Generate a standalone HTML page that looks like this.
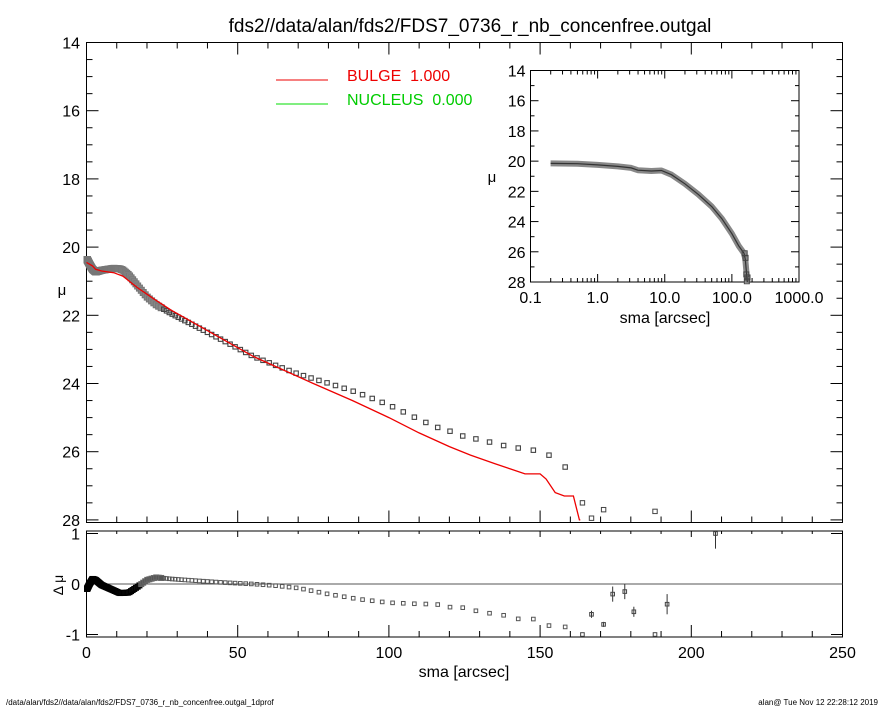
<!DOCTYPE html>
<html><head><meta charset="utf-8"><style>
html,body{margin:0;padding:0;background:#fff;}
svg{display:block;font-family:"Liberation Sans",sans-serif;}
</style></head><body>
<svg id="s" width="885" height="708" viewBox="0 0 885 708" xmlns="http://www.w3.org/2000/svg">
<rect width="885" height="708" fill="#fff"/>
<text x="470" y="32" font-size="19" text-anchor="middle">fds2//data/alan/fds2/FDS7_0736_r_nb_concenfree.outgal</text>
<g id="main"></g>
<text x="6" y="705" font-size="8">/data/alan/fds2//data/alan/fds2/FDS7_0736_r_nb_concenfree.outgal_1dprof</text>
<text x="878" y="705" font-size="8" text-anchor="end">alan@  Tue Nov 12 22:28:12 2019</text>
</svg>
<script>
var NS="http://www.w3.org/2000/svg",g=document.getElementById("main");
function el(t,a,txt){var e=document.createElementNS(NS,t);for(var k in a)e.setAttribute(k,a[k]);if(txt!==undefined)e.textContent=txt;g.appendChild(e);return e;}
var X0=86.5,XS=(842.5-86.5)/250,Y0=42.5,YS=34.1;
function px(r){return X0+r*XS;} function py(m){return Y0+(m-14)*YS;}
var R0=584,RS=50.5; function ry(d){return R0-d*RS;}
function interp(pts,x){if(x<=pts[0][0])return pts[0][1];for(var i=1;i<pts.length;i++){if(x<=pts[i][0]){var a=pts[i-1],b=pts[i];return a[1]+(b[1]-a[1])*(x-a[0])/(b[0]-a[0]);}}return pts[pts.length-1][1];}
var model=[[0,20.45],[2,20.55],[3,20.65],[5,20.7],[9,20.75],[12,20.85],[17,21.2],[22,21.5],[28,21.85],[35,22.2],[45,22.7],[55,23.2],[65,23.6],[75,24.0],[88,24.5],[100,25.0],[110,25.45],[120,25.85],[127,26.1],[135,26.35],[140,26.5],[145,26.65],[150,26.65],[152,26.8],[155,27.2],[158,27.3],[161,27.3],[163,28.1]];
var res=[[0,-0.12],[1,0.0],[2,0.1],[3,0.08],[5,-0.02],[8,-0.1],[11,-0.18],[14,-0.17],[17,-0.05],[20,0.08],[23,0.13],[28,0.1],[35,0.07],[45,0.03],[55,0.0],[62,-0.03],[70,-0.08],[80,-0.2],[90,-0.3],[100,-0.37],[112,-0.4],[115,-0.35],[117,-0.45],[125,-0.47],[130,-0.55],[138,-0.62],[142,-0.7],[146,-0.65],[150,-0.75],[154,-0.85],[160,-0.85]];
el("rect",{x:86.5,y:42.5,width:756,height:480,fill:"none",stroke:"#000","stroke-width":1});
el("rect",{x:86.5,y:531,width:756,height:106,fill:"none",stroke:"#000","stroke-width":1});
for(var m=14;m<=28;m+=0.5){var y=py(m),L=(m%2==0)?12:6;el("line",{x1:86.5,x2:86.5+L,y1:y,y2:y,stroke:"#000"});el("line",{x1:842.5,x2:842.5-L,y1:y,y2:y,stroke:"#000"});if(m%2==0)el("text",{x:80,y:y+6,"font-size":16,"text-anchor":"end"},String(m));}
el("text",{x:62,y:295,"font-size":15,"text-anchor":"middle"},"μ");
for(var r=0;r<=250;r+=10){var x=px(r),L=(r%50==0)?12:6;el("line",{x1:x,x2:x,y1:522.5,y2:522.5-L,stroke:"#000"});el("line",{x1:x,x2:x,y1:42.5,y2:42.5+L,stroke:"#000"});el("line",{x1:x,x2:x,y1:637,y2:637-L,stroke:"#000"});el("line",{x1:x,x2:x,y1:531,y2:531+L*0.5,stroke:"#000"});if(r%50==0)el("text",{x:x,y:658,"font-size":16,"text-anchor":"middle"},String(r));}
el("text",{x:464,y:677,"font-size":16,"text-anchor":"middle"},"sma [arcsec]");
[[1,"1"],[0,"0"],[-1,"-1"]].forEach(function(a){var y=ry(a[0]);el("line",{x1:86.5,x2:98,y1:y,y2:y,stroke:"#000"});el("line",{x1:842.5,x2:831,y1:y,y2:y,stroke:"#000"});el("text",{x:80,y:y+6,"font-size":16,"text-anchor":"end"},a[1]);});
el("line",{x1:86.5,x2:842.5,y1:R0,y2:R0,stroke:"#555","stroke-width":1});
el("text",{x:58,y:590,"font-size":14,"text-anchor":"middle",transform:"rotate(-90 58 585)"},"Δ μ");
el("line",{x1:276,x2:328,y1:80,y2:80,stroke:"#e00"});
el("text",{x:347,y:81,"font-size":16,fill:"#e00"},"BULGE\u00a0\u00a01.000");
el("line",{x1:276,x2:328,y1:104,y2:104,stroke:"#0d0"});
el("text",{x:347,y:105,"font-size":16,fill:"#0c0"},"NUCLEUS\u00a0\u00a00.000");
var rs=[];for(var r=0.2;r<161;r*=1.035)rs.push(r);
rs.forEach(function(r){var d=interp(model,r)+interp(res,r);var x=px(r),y=py(d),yr=ry(interp(res,r));
 if(r<25){el("rect",{x:x-3,y:y-3,width:6,height:6,fill:"#888",stroke:"#777","stroke-width":1});el("rect",{x:x-2.5,y:yr-2.5,width:5,height:5,fill:r<18?"#111":"#555",stroke:r<18?"#000":"#666"});}
 else {el("rect",{x:x-2.2,y:y-2.2,width:4.4,height:4.4,fill:"none",stroke:"#444","stroke-width":1.1});el("rect",{x:x-1.8,y:yr-1.8,width:3.6,height:3.6,fill:"none",stroke:"#555","stroke-width":1});}
});
[[164,27.5,-1.0,0],[167,27.95,-0.6,0.07],[171,27.7,-0.8,0.05],[174,null,-0.2,0.15],[178,null,-0.15,0.15],[181,null,-0.55,0.1],[188,27.75,-1.0,0],[192,null,-0.4,0.2],[208,null,1.0,0.3]].forEach(function(o){var x=px(o[0]);if(o[1]!==null)el("rect",{x:x-2.2,y:py(o[1])-2.2,width:4.4,height:4.4,fill:"none",stroke:"#444"});var yr=ry(o[2]);if(o[3]>0){var y1=Math.max(531,ry(o[2]+o[3])),y2=Math.min(637,ry(o[2]-o[3]));if(o[0]==208){y1=531;y2=ry(0.7);}el("line",{x1:x,x2:x,y1:y1,y2:y2,stroke:"#333"});}el("rect",{x:x-1.8,y:yr-1.8,width:3.6,height:3.6,fill:"none",stroke:"#444"});});
var d="";model.forEach(function(p,i){d+=(i?"L":"M")+px(p[0]).toFixed(1)+","+py(Math.min(p[1],28)).toFixed(1);});
d+="L"+px(163.3).toFixed(1)+","+py(28).toFixed(1);
el("path",{d:d,fill:"none",stroke:"#e00","stroke-width":1.3});
var IX0=530.5,IX1=799,IY0=70.5,IY1=282,IS=(IX1-IX0)/4,IYS=(IY1-IY0)/14;
el("rect",{x:IX0,y:IY0,width:IX1-IX0,height:IY1-IY0,fill:"#fff",stroke:"#000"});
function ix(r){return IX0+(Math.log10(r)+1)*IS;} function iy(m){return IY0+(m-14)*IYS;}
for(var e=-1;e<3;e++)for(var k=1;k<10;k++){var x=ix(k*Math.pow(10,e)),L=k==1?8:4;el("line",{x1:x,x2:x,y1:IY1,y2:IY1-L,stroke:"#000"});el("line",{x1:x,x2:x,y1:IY0,y2:IY0+L,stroke:"#000"});}
["0.1","1.0","10.0","100.0","1000.0"].forEach(function(t,i){el("text",{x:IX0+i*IS,y:303,"font-size":16,"text-anchor":"middle"},t);});
el("text",{x:665,y:323,"font-size":16,"text-anchor":"middle"},"sma [arcsec]");
for(var m=14;m<=28;m+=1){var y=iy(m),L=m%2==0?8:4;el("line",{x1:IX0,x2:IX0+L,y1:y,y2:y,stroke:"#000"});el("line",{x1:IX1,x2:IX1-L,y1:y,y2:y,stroke:"#000"});if(m%2==0)el("text",{x:IX0-5,y:y+6,"font-size":16,"text-anchor":"end"},String(m));}
el("text",{x:492,y:182,"font-size":15,"text-anchor":"middle"},"μ");
var ins=[[-0.7,20.15],[-0.3,20.17],[0,20.25],[0.3,20.35],[0.5,20.45],[0.6,20.6],[0.8,20.65],[0.95,20.62],[1.1,20.9],[1.3,21.5],[1.5,22.2],[1.7,23.0],[1.85,23.8],[2.0,24.8],[2.1,25.6],[2.18,26.1],[2.2,26.5],[2.23,28]];
var ip="";ins.forEach(function(p,i){ip+=(i?"L":"M")+(IX0+(p[0]+1)*IS).toFixed(1)+","+iy(p[1]).toFixed(1);});
el("path",{d:ip,fill:"none",stroke:"#888","stroke-width":6,"stroke-linejoin":"round"});
el("path",{d:ip,fill:"none",stroke:"#333","stroke-width":1.2});
[[164,27.5],[167,27.95],[171,27.7],[160,26.4],[155,26.1]].forEach(function(o){el("rect",{x:ix(o[0])-2.5,y:iy(o[1])-2.5,width:5,height:5,fill:"none",stroke:"#444"});});
</script>
</body></html>
